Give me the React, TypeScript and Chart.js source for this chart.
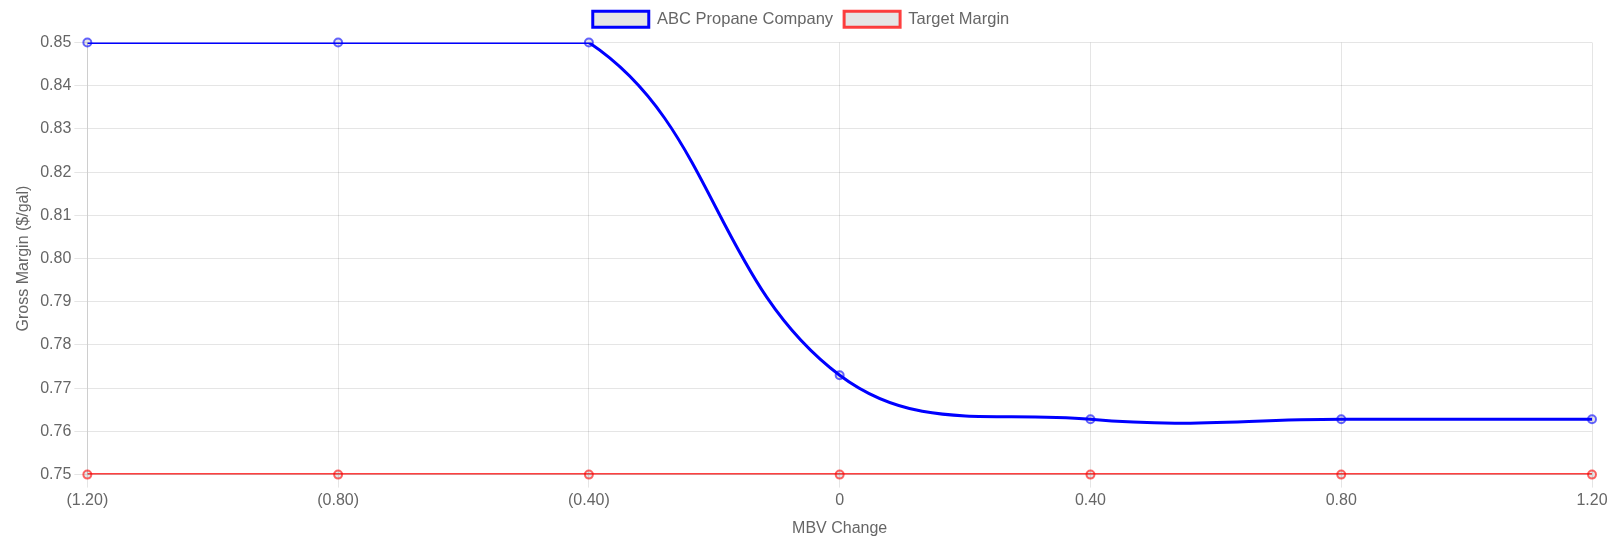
import React, { useEffect, useRef } from "react";
import { Chart, registerables } from "chart.js";

Chart.register(...registerables);

const xLabels = ["(1.20)", "(0.80)", "(0.40)", "0", "0.40", "0.80", "1.20"];
const abcPropane = [0.85, 0.85, 0.85, 0.773, 0.7628, 0.7628, 0.7628];
const targetMargin = [0.75, 0.75, 0.75, 0.75, 0.75, 0.75, 0.75];
const yMin = 0.75;
const yMax = 0.85;
const yStep = 0.01;

const FONT = "'Liberation Sans', Arial, Helvetica, sans-serif";
const FS = 16;
const BLUE = "rgb(0, 0, 255)";
const BLUE_PT = "rgba(0, 0, 255, 0.6)";
const RED = "rgba(255, 0, 0, 0.75)";
const RED_PT = "rgba(255, 0, 0, 0.6)";
const GREY_FILL = "rgba(0, 0, 0, 0.1)";

const legendSpacer = {
  id: "legendSpacer",
  afterInit(chart: any) {
    const legend = chart.legend;
    if (!legend) return;
    const orig = legend.fit;
    legend.fit = function () {
      orig.call(this);
      this.height += 5;
    };
  },
};

export default function App() {
  const ref = useRef<HTMLCanvasElement>(null);
  useEffect(() => {
    document.body.style.margin = "0";
    if (!ref.current) return;
    Chart.defaults.font.family = FONT;
    Chart.defaults.font.size = FS;
    Chart.defaults.color = "#666";
    const font = { family: FONT, size: FS };
    const chart = new Chart(ref.current, {
      type: "line",
      data: {
        labels: xLabels,
        datasets: [
          {
            label: "ABC Propane Company",
            data: abcPropane,
            borderColor: BLUE,
            backgroundColor: GREY_FILL,
            borderWidth: 3,
            tension: 0.4,
            pointRadius: 0,
            fill: false,
            clip: 0,
          },
          {
            label: "Target Margin",
            data: targetMargin,
            borderColor: RED,
            backgroundColor: GREY_FILL,
            borderWidth: 3,
            tension: 0.4,
            pointRadius: 0,
            fill: false,
            clip: 0,
          },
          {
            label: "abc-points",
            data: abcPropane,
            showLine: false,
            pointRadius: 4,
            pointBorderWidth: 2,
            pointBorderColor: BLUE_PT,
            pointBackgroundColor: GREY_FILL,
            borderColor: BLUE_PT,
            backgroundColor: GREY_FILL,
            clip: false,
          },
          {
            label: "target-points",
            data: targetMargin,
            showLine: false,
            pointRadius: 4,
            pointBorderWidth: 2,
            pointBorderColor: RED_PT,
            pointBackgroundColor: GREY_FILL,
            borderColor: RED_PT,
            backgroundColor: GREY_FILL,
            clip: false,
          },
        ],
      },
      plugins: [legendSpacer],
      options: {
        animation: false,
        responsive: true,
        maintainAspectRatio: false,
        layout: { padding: { left: 10, right: 23, top: 0, bottom: 0 } },
        plugins: {
          legend: {
            display: true,
            position: "top",
            labels: {
              boxWidth: 56,
              boxHeight: 16,
              padding: 11,
              color: "#666",
              font: { family: FONT, size: 16.5 },
              filter: (item) => item.datasetIndex < 2,
            },
          },
          tooltip: { enabled: false },
        },
        scales: {
          x: {
            type: "category",
            offset: false,
            grid: { color: "rgba(0,0,0,0.1)", tickLength: 13 },
            ticks: { color: "#666", font, maxRotation: 0 },
            title: {
              display: true,
              text: "MBV Change",
              color: "#666",
              font,
              padding: { top: 6, bottom: 3 },
            },
          },
          y: {
            min: yMin,
            max: yMax,
            grid: { color: "rgba(0,0,0,0.1)", tickLength: 13 },
            ticks: {
              stepSize: yStep,
              color: "#666",
              font,
              callback: (v) => Number(v).toFixed(2),
            },
            title: { display: true, text: "Gross Margin ($/gal)", color: "#666", font },
          },
        },
      },
    });
    return () => chart.destroy();
  }, []);
  return (
    <div style={{ width: "100%", height: 541, position: "relative" }}>
      <canvas ref={ref} />
    </div>
  );
}
